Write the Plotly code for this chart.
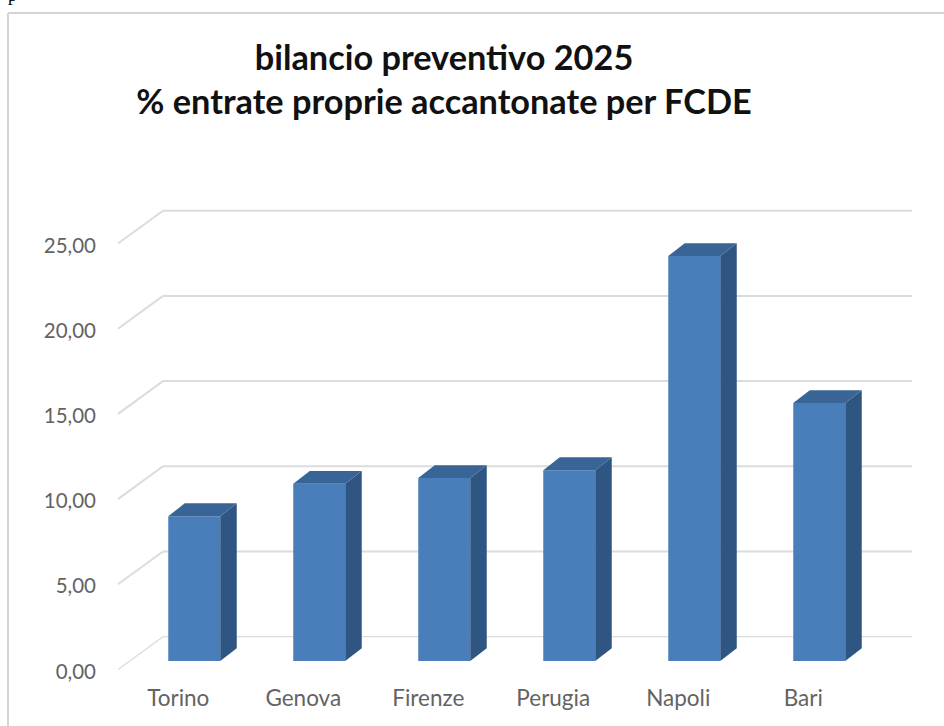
import plotly.graph_objects as go

categories = ["Torino", "Genova", "Firenze", "Perugia", "Napoli", "Bari"]
values = [8.5, 10.4, 10.74, 11.2, 23.77, 15.14]
tick_values = [0, 5, 10, 15, 20, 25]
tick_labels = ["0,00", "5,00", "10,00", "15,00", "20,00", "25,00"]
title_lines = ["bilancio preventivo 2025", "% entrate proprie accantonate per FCDE"]

# page geometry (pixels)
W, H = 944, 726
L, B = 105, 46
PX_PER_CAT = 125.0
PX_PER_UNIT = 17.04
X0_PX = 194.25      # centre of first bar
Y0_PX = 661.0       # base of the bars

# 3-D look, in axis units
BAR_W = 52.0 / PX_PER_CAT
BAR_DX = 16.5 / PX_PER_CAT
BAR_DY = 12.8 / PX_PER_UNIT
WALL_DY = (661 - 636.7) / PX_PER_UNIT
WALL_X0 = (163 - X0_PX) / PX_PER_CAT
WALL_X1 = (912 - X0_PX) / PX_PER_CAT
FLOOR_X = (118 - X0_PX) / PX_PER_CAT
FLOOR_DY = (669.5 - 636.7) / PX_PER_UNIT
LABEL_SHIFT_Y = (671.5 - 661) / PX_PER_UNIT
LABEL_SHIFT_X = 16 / PX_PER_CAT

FRONT, SIDE, TOP = "#4a7ebb", "#2f5583", "#386595"
GRID = "#dcdcdc"
TEXT = "#636363"

x_idx = list(range(len(categories)))
fig = go.Figure()

fig.add_trace(go.Bar(x=x_idx, y=values, width=BAR_W,
                     marker=dict(color=FRONT, line=dict(width=0)),
                     hoverinfo="skip", showlegend=False))

for i, v in zip(x_idx, values):
    xl, xr = i - BAR_W / 2, i + BAR_W / 2
    fig.add_trace(go.Scatter(
        x=[xr, xr + BAR_DX, xr + BAR_DX, xr, xr],
        y=[0, BAR_DY, v + BAR_DY, v, 0],
        mode="lines", fill="toself", fillcolor=SIDE,
        line=dict(width=0), hoverinfo="skip", showlegend=False))
    fig.add_trace(go.Scatter(
        x=[xl, xl + BAR_DX, xr + BAR_DX, xr, xl],
        y=[v, v + BAR_DY, v + BAR_DY, v, v],
        mode="lines", fill="toself", fillcolor=TOP,
        line=dict(width=0), hoverinfo="skip", showlegend=False))

shapes = []
for k, t in enumerate(tick_values):
    yb = t + WALL_DY
    w = 1.3 if k == 0 else 2
    shapes.append(dict(type="line", layer="below", xref="x", yref="y",
                       x0=WALL_X0, x1=WALL_X1, y0=yb, y1=yb,
                       line=dict(color=GRID, width=w)))
    shapes.append(dict(type="line", layer="below", xref="x", yref="y",
                       x0=FLOOR_X, x1=WALL_X0, y0=yb - FLOOR_DY, y1=yb,
                       line=dict(color=GRID, width=w)))

# chart frame
PW, PH = W - L, H - B
def px(p): return (p - L) / PW
def py(p): return 1 - p / PH
shapes.append(dict(type="line", layer="below", xref="paper", yref="paper",
                   x0=px(8), x1=px(8), y0=py(13), y1=py(H),
                   line=dict(color="#d4d4d4", width=2)))
shapes.append(dict(type="line", layer="below", xref="paper", yref="paper",
                   x0=px(8), x1=px(W), y0=py(13), y1=py(13),
                   line=dict(color="#d4d4d4", width=2)))

fig.update_layout(
    width=W, height=H, autosize=False,
    margin=dict(l=L, r=0, t=0, b=B, pad=0),
    paper_bgcolor="white", plot_bgcolor="rgba(0,0,0,0)",
    showlegend=False, shapes=shapes,
    title=dict(
        text="<br>".join(title_lines),
        font=dict(family="Lato", size=34.3, color="#111111", weight="bold"),
        x=444 / W, xanchor="center", xref="container",
        y=1 - 69.5 / H, yanchor="top", yref="container"),
    xaxis=dict(range=[(L - X0_PX) / PX_PER_CAT, (W - X0_PX) / PX_PER_CAT],
               tickmode="array",
               tickvals=[i - LABEL_SHIFT_X for i in x_idx], ticktext=categories,
               showgrid=False, zeroline=False, showline=False, ticks="",
               ticklabelstandoff=2,
               tickfont=dict(family="Lato", size=22.5, color=TEXT)),
    yaxis=dict(range=[(Y0_PX - (H - B)) / PX_PER_UNIT, Y0_PX / PX_PER_UNIT],
               tickmode="array",
               tickvals=[t - LABEL_SHIFT_Y for t in tick_values], ticktext=tick_labels,
               showgrid=False, zeroline=False, showline=False, ticks="",
               ticklabelstandoff=8,
               tickfont=dict(family="Lato", size=20.5, color=TEXT)),
    annotations=[dict(text="p", xref="paper", yref="paper",
                      x=px(6), y=py(7), xanchor="left", yanchor="bottom",
                      showarrow=False,
                      font=dict(family="Liberation Serif", size=18, color="black"))],
)

fig.write_html("out.html", config={"displayModeBar": False},
               post_script="document.body.style.margin='0';document.body.style.overflow='hidden';")
